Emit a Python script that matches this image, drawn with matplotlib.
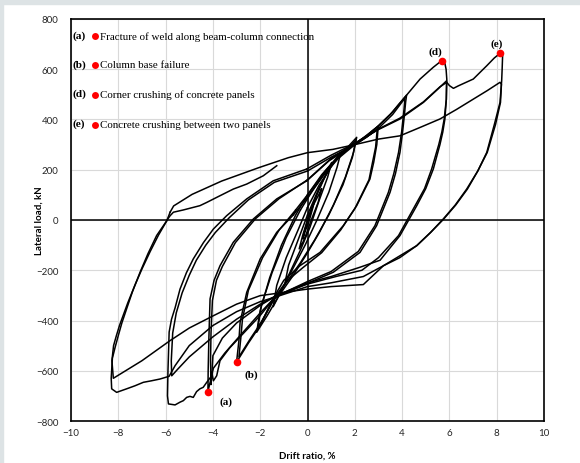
import matplotlib
matplotlib.use("Agg")
import matplotlib.pyplot as plt
from matplotlib.patches import Rectangle

# ---------------------------------------------------------------------------
# Data: drift ratio (%) / lateral load (kN), one pair of lists per cycle
# ---------------------------------------------------------------------------

drift_c1 = [0.0, 0.15, 0.3, 0.2, 0.05, -0.1, -0.2, -0.1, 0.0]
load_c1 = [0, 40, 75, 40, -10, -45, -75, -35, 0]

drift_c2 = [0.0, 0.25, 0.5, 0.6, 0.45, 0.2, -0.05, -0.2, -0.35, -0.2, 0.0]
load_c2 = [0, 60, 105, 125, 70, 10, -55, -90, -115, -60, 0]

drift_c3 = [0.0, 0.4, 0.75, 1.02, 0.85, 0.5, 0.1, -0.3, -0.7, -0.95, -0.8, -0.4, 0.0]
load_c3 = [0, 100, 175, 229, 170, 80, -30, -120, -200, -250, -180, -80, 20]

drift_c4 = [0.0, 0.5, 1.0, 1.4, 1.25, 0.9, 0.4, -0.1, -0.6, -1.1, -1.45, -1.3,
            -0.9, -0.4, 0.0]
load_c4 = [20, 130, 215, 265, 210, 110, 0, -100, -190, -280, -345, -260,
           -150, -40, 50]

drift_c5 = [0.0, 0.5, 1.2, 1.7, 2.08, 1.95, 1.6, 1.1, 0.5, 0.0, -0.6, -1.2,
            -1.7, -2.15, -2.0, -1.6, -1.1, -0.5, 0.0]
load_c5 = [50, 140, 240, 290, 329, 270, 170, 60, -50, -130, -220, -300,
           -380, -447, -360, -230, -100, 20, 100]

drift_c6 = [0.0, 0.6, 1.3, 1.8, 2.05, 1.9, 1.5, 0.9, 0.3, -0.3, -0.9, -1.5,
            -2.1, -1.95, -1.5, -0.9, -0.3]
load_c6 = [100, 180, 255, 292, 320, 250, 140, 20, -80, -170, -250, -330,
           -430, -340, -210, -70, 40]

drift_c7 = [-0.3, 0.3, 0.9, 1.5, 1.9, 2.4, 2.99, 2.93, 2.8, 2.64, 2.08, 1.51,
            0.53, -0.32, -1.0, -1.5, -2.0, -2.5, -3.0, -2.9, -2.85, -2.57,
            -2.0, -1.3, -0.6]
load_c7 = [40, 130, 210, 265, 295, 330, 373, 300, 230, 163, 57, -23,
           -129, -182, -240, -320, -420, -490, -566, -480, -407, -288,
           -155, -49, 20]

drift_c8 = [-0.6, 0.0, 0.7, 1.3, 1.9, 2.5, 2.95, 2.88, 2.6, 2.0, 1.4, 0.6,
            -0.2, -0.9, -1.4, -1.9, -2.4, -2.9, -2.82, -2.75, -2.5, -1.9,
            -1.2, -0.5]
load_c8 = [20, 90, 180, 245, 292, 330, 362, 290, 160, 45, -40, -130,
           -190, -245, -310, -400, -470, -545, -470, -395, -280, -150,
           -40, 40]

drift_c9 = [-0.5, 0.0, 0.8, 1.4, 1.9, 2.5, 3.0, 3.5, 3.9, 4.19, 4.15, 4.1,
            4.02, 3.91, 3.72, 3.49, 2.92, 2.22, 1.09, 0.1, -0.8, -1.3, -2.0,
            -2.85, -3.5, -3.98, -4.21, -4.2, -4.17, -4.12, -3.95, -3.7,
            -3.14, -2.29, -1.3, -0.03]
load_c9 = [40, 100, 200, 260, 295, 335, 375, 420, 465, 497, 470, 420,
           350, 269, 185, 110, -23, -129, -208, -248, -285, -300, -370,
           -460, -530, -590, -683, -600, -470, -314, -240, -182,
           -89, 4, 84, 156]

drift_c10 = [-0.03, 0.9, 1.9, 2.5, 3.0, 3.6, 4.12, 4.08, 3.98, 3.85, 3.65,
             3.42, 2.85, 2.15, 1.0, 0.0, -0.9, -1.4, -2.0, -2.7, -3.3, -3.7,
             -3.84, -3.98, -4.05, -4.08, -4.1, -4.08, -4.02, -3.85, -3.6,
             -3.05, -2.2, -1.2, 0.0]
load_c10 = [156, 235, 295, 330, 365, 420, 485, 440, 350, 269, 185,
            110, -23, -125, -205, -245, -285, -310, -380, -450, -510, -560,
            -620, -640, -606, -655, -560, -450, -320, -240, -185,
            -90, 5, 85, 160]

drift_c11 = [0.0, 1.0, 1.9, 2.5, 3.0, 3.6, 4.19, 4.76, 5.32, 5.67, 5.8, 5.86,
             5.89, 5.87, 5.81, 5.72, 5.6, 5.32, 5.0, 4.62, 3.91, 3.07, 2.22,
             1.0, 0.0, -1.3, -2.0, -3.0, -3.6, -4.0, -4.05, -4.26, -4.41,
             -4.55, -4.69, -4.83, -4.97, -5.11, -5.25, -5.39, -5.6, -5.88,
             -5.92, -5.9, -5.85, -5.75, -5.6, -5.39, -5.12, -4.83, -4.4,
             -3.98, -3.42, -2.57, -1.45, -0.03]
load_c11 = [160, 245, 298, 335, 375, 430, 497, 561, 608, 634, 628, 600,
            560, 480, 402, 350, 300, 203, 125, 57, -62, -160, -188,
            -225, -250, -300, -340, -410, -470, -540, -620, -646, -666,
            -672, -683, -706, -702, -706, -719, -725, -736, -732,
            -700, -600, -446, -395, -350, -275, -210, -155, -90,
            -36, 17, 84, 156, 203]

drift_c12 = [-0.03, 1.0, 1.9, 3.0, 3.91, 4.9, 5.5, 5.88, 5.87, 5.78, 5.68,
             5.55, 5.25, 4.95, 4.55, 3.85, 3.0, 2.3, 1.2, 0.0, -1.3, -2.0,
             -3.0, -4.0, -5.0, -5.5, -5.74, -5.76, -5.7, -5.55, -5.3, -5.0,
             -4.7, -4.3, -3.9, -3.3, -2.5, -1.4, 0.0]
load_c12 = [203, 258, 300, 360, 402, 468, 520, 554, 480, 402, 350,
            300, 203, 125, 57, -62, -150, -200, -225, -255, -300, -335,
            -395, -465, -545, -595, -620, -560, -450, -370, -290, -220,
            -160, -100, -50, 10, 80, 150, 195]

drift_c13 = [0.0, 1.0, 1.9, 3.0, 3.9, 4.9, 5.6, 5.89, 6.0, 6.17, 6.38, 7.01,
             7.58, 7.9, 8.15, 8.25, 8.23, 8.21, 8.14, 7.9, 7.58, 7.2, 6.73,
             6.25, 5.74, 5.2, 4.62, 3.9, 3.21, 2.36, 1.0, 0.0, -1.3, -2.0,
             -3.0, -4.0, -5.0, -5.6, -5.85, -6.24, -6.6, -6.94, -7.3, -7.65,
             -8.07, -8.28, -8.3, -8.25, -8.13, -8.0, -7.85, -7.65, -7.4,
             -7.08, -6.75, -6.38, -5.95, -5.81]
load_c13 = [195, 250, 295, 362, 405, 470, 530, 548, 535, 524, 534, 561,
            614, 645, 664, 654, 600, 554, 468, 380, 269, 195, 123,
            60, 4, -50, -102, -150, -182, -225, -250, -265, -305, -325,
            -365, -420, -500, -580, -622, -633, -640, -646, -660, -672,
            -686, -672, -630, -550, -505, -460, -410, -354, -285,
            -208, -135, -62, -3, 31]

drift_c14 = [-5.81, -5.66, -4.88, -3.63, -2.07, -0.81, 0.0, 1.07, 2.0, 3.0,
             3.91, 4.8, 5.6, 6.3, 7.01, 7.6, 8.14, 8.2, 8.16, 7.95, 7.6,
             7.2, 6.76, 6.27, 5.76, 5.2, 4.62, 3.21, 2.36, 1.0, 0.0, -2.0,
             -3.0, -3.98, -5.0, -5.81, -7.0, -8.21, -8.27, -8.2, -8.08,
             -7.95, -7.6, -7.3, -7.0, -6.65, -6.3, -5.9, -5.81, -5.67,
             -5.25, -4.55, -4.26, -3.84, -3.14, -2.57, -1.87, -1.3]
load_c14 = [31, 56, 102, 155, 208, 248, 268, 281, 300, 322,
            335, 370, 402, 440, 481, 515, 548, 540, 468, 380, 269,
            195, 123, 60, 4, -50, -102, -182, -257, -265, -275, -301,
            -335, -381, -430, -480, -560, -630, -560, -500, -460,
            -420, -330, -260, -195, -125, -60, 5, 17, 31,
            40, 57, 70, 90, 123, 143, 176, 216]

cycles = [
    (drift_c1, load_c1), (drift_c2, load_c2), (drift_c3, load_c3),
    (drift_c4, load_c4), (drift_c5, load_c5), (drift_c6, load_c6),
    (drift_c7, load_c7), (drift_c8, load_c8), (drift_c9, load_c9),
    (drift_c10, load_c10), (drift_c11, load_c11), (drift_c12, load_c12),
    (drift_c13, load_c13), (drift_c14, load_c14),
]

# Failure events marked on the curve
event_tags = ["(a)", "(b)", "(d)", "(e)"]
event_drift = [-4.21, -3.0, 5.67, 8.15]
event_load = [-683, -566, 634, 664]
event_tag_drift = [-3.72, -2.68, 5.12, 7.72]
event_tag_load = [-722, -612, 672, 702]

legend_text = [
    "Fracture of weld along beam-column connection",
    "Column base failure",
    "Corner crushing of concrete panels",
    "Concrete crushing between two panels",
]
legend_load = [733, 618, 500, 382]

x_ticks = [-10, -8, -6, -4, -2, 0, 2, 4, 6, 8, 10]
y_ticks = [-800, -600, -400, -200, 0, 200, 400, 600, 800]

# ---------------------------------------------------------------------------
# Figure
# ---------------------------------------------------------------------------

plt.rcParams.update({
    "font.family": ["Lato", "DejaVu Sans"],
    "font.size": 7,
})

fig = plt.figure(figsize=(5.8, 4.64), dpi=100)
fig.patch.set_facecolor("white")
# thin grey page frame seen along the top and left of the source image
fig.patches.append(Rectangle((0, 1 - 5 / 464), 1, 5 / 464, transform=fig.transFigure,
                             color="#dde3e5", zorder=0))
fig.patches.append(Rectangle((0, 0), 3 / 580, 1, transform=fig.transFigure,
                             color="#dde3e5", zorder=0))

ax = fig.add_axes([71 / 580, 1 - 422 / 464, 473 / 580, 402 / 464])
ax.set_xlim(-10, 10)
ax.set_ylim(-800, 800)
ax.set_xticks(x_ticks)
ax.set_yticks(y_ticks)
ax.tick_params(length=0, labelsize=7, colors="#262626")
ax.tick_params(axis="y", pad=9)
ax.tick_params(axis="x", pad=5)
ax.grid(True, color="#d9d9d9", linewidth=0.8)
ax.set_axisbelow(True)
for sp in ax.spines.values():
    sp.set_linewidth(1.2)
    sp.set_color("black")

ax.axhline(0, color="black", linewidth=1.1, zorder=2)
ax.axvline(0, color="black", linewidth=1.1, zorder=2)

for dx, ld in cycles:
    ax.plot(dx, ld, color="black", linewidth=1.1, zorder=3,
            solid_joinstyle="round")

ax.plot(event_drift, event_load, "o", color="#ff0000", markersize=5.5,
        markeredgewidth=0, zorder=4)
serif = ["Liberation Serif", "DejaVu Serif"]
for tag, tx, ty in zip(event_tags, event_tag_drift, event_tag_load):
    ax.text(tx, ty, tag, family=serif, fontweight="bold", fontsize=8,
            ha="left", va="center", zorder=5)

for tag, txt, ty in zip(event_tags, legend_text, legend_load):
    ax.text(-9.95, ty + 3, tag, family=serif, fontweight="bold", fontsize=8.2,
            ha="left", va="center", zorder=5)
    ax.plot([-8.99], [ty - 2], "o", color="#ff0000", markersize=5,
            markeredgewidth=0, zorder=5)
    ax.text(-8.77, ty, txt, family=serif, fontsize=7.9, ha="left",
            va="center", zorder=5)

ax.set_xlabel("Drift ratio, %", fontweight="bold", fontsize=7, labelpad=10)
ax.set_ylabel("Lateral load, kN", fontweight="bold", fontsize=7)
ax.yaxis.set_label_coords(-0.057, 0.5)

fig.savefig("out.png", dpi=100)
